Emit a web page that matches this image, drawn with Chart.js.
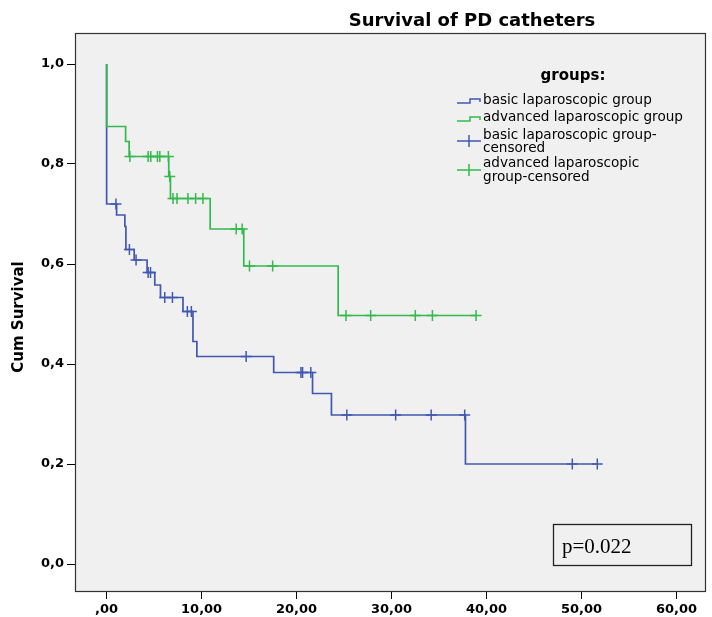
<!DOCTYPE html>
<html>
<head>
<meta charset="utf-8">
<script src="https://cdn.jsdelivr.net/npm/chart.js@4"></script>
<style>
  body { margin: 0; background: #fff; }
  #wrap { position: relative; width: 712px; height: 617px; }
</style>
</head>
<body>
<div id="wrap"><canvas id="km"></canvas></div>
<script>
// Kaplan-Meier steps: time of each drop and survival after it (last point = end of follow-up)
const basicTimes = [0, 0, 1.05, 1.92, 2.03, 2.9, 4.26, 5.07, 5.67, 8.04, 9.09, 9.5, 17.59, 21.68, 23.67, 37.78, 51.66];
const basicSurv  = [1.0, 0.72, 0.698, 0.675, 0.629, 0.608, 0.583, 0.558, 0.533, 0.505, 0.445, 0.415, 0.383, 0.341, 0.298, 0.2, 0.2];
const basicCensored = [0.98, 2.4, 3.1, 4.37, 4.62, 6.12, 6.93, 8.5, 8.92, 14.69, 20.46, 20.63, 21.5, 25.29, 30.43, 34.17, 37.7, 49.03, 51.66];

const advTimes = [0, 0, 2.0, 2.37, 6.54, 6.72, 10.9, 14.44, 24.38, 38.9];
const advSurv  = [1.0, 0.875, 0.845, 0.815, 0.775, 0.731, 0.67, 0.596, 0.497, 0.497];
const advCensored = [2.45, 4.37, 4.65, 5.35, 5.6, 6.5, 6.65, 6.99, 7.41, 8.56, 9.37, 10.14, 13.64, 14.27, 15.04, 17.48, 25.2, 27.8, 32.5, 34.3, 38.9];

const xTicks = [0, 10, 20, 30, 40, 50, 60];
const yTicks = [0, 0.2, 0.4, 0.6, 0.8, 1.0];

const groupNames = ['basic laparoscopic group', 'advanced laparoscopic group',
                    'basic laparoscopic group-\ncensored', 'advanced laparoscopic\ngroup-censored'];
const pValue = 'p=0.022';

const BLUE = '#4058b0';
const GREEN = '#33b94c';

function survAt(times, surv, t) {
    let s = surv[0];
    for (let i = 0; i < times.length; i++)
        if (times[i] <= t) s = surv[i];
    return s;
}

const toXY = (times, surv) => times.map((t, i) => ({ x: t, y: surv[i] }));
const censXY = (cens, times, surv) => cens.map(t => ({ x: t, y: survAt(times, surv, t) }));

// plot background, frame, titles, legend and p-value box
const decor = {
    id: 'decor',
    beforeDatasetsDraw(chart) {
        const { ctx, chartArea: a } = chart;
        ctx.save();
        ctx.fillStyle = '#f0f0f0';
        ctx.fillRect(a.left, a.top, a.right - a.left, a.bottom - a.top);
        ctx.strokeStyle = '#333';
        ctx.lineWidth = 1.2;
        ctx.strokeRect(a.left + 0.5, a.top + 0.5, a.right - a.left, a.bottom - a.top);

        // p-value box
        ctx.fillStyle = '#f0f0f0';
        ctx.fillRect(553, 524, 139, 42);
        ctx.lineWidth = 1.3;
        ctx.strokeStyle = '#222';
        ctx.strokeRect(553.5, 524.5, 138, 41);
        ctx.fillStyle = '#000';
        ctx.font = '21px "Liberation Serif"';
        ctx.textBaseline = 'alphabetic';
        ctx.fillText(pValue, 562, 553);
        ctx.restore();
    },
    afterDraw(chart) {
        const { ctx } = chart;
        ctx.save();
        ctx.fillStyle = '#000';
        ctx.textAlign = 'center';
        ctx.textBaseline = 'alphabetic';
        ctx.font = 'bold 18px "DejaVu Sans"';
        ctx.fillText('Survival of PD catheters', 472, 26);

        // y axis title
        ctx.save();
        ctx.translate(19, 317);
        ctx.rotate(-Math.PI / 2);
        ctx.textBaseline = 'middle';
        ctx.font = 'bold 15px "DejaVu Sans"';
        ctx.fillText('Cum Survival', 0, 0);
        ctx.restore();

        ctx.textBaseline = 'middle';
        ctx.font = 'bold 15px "DejaVu Sans"';
        ctx.fillText('groups:', 573, 76);

        ctx.textAlign = 'left';
        ctx.font = '13.6px "DejaVu Sans"';
        const rows = [[100], [117.5], [135.5, 148.5], [163.5, 177]];
        groupNames.forEach((name, i) => {
            name.split('\n').forEach((line, j) => ctx.fillText(line, 483, rows[i][j]));
        });

        ctx.lineWidth = 1.5;
        // step icons
        [[BLUE, 101], [GREEN, 119]].forEach(([c, y]) => {
            ctx.strokeStyle = c;
            ctx.beginPath();
            ctx.moveTo(457, y + 2);
            ctx.lineTo(470, y + 2);
            ctx.lineTo(470, y - 2);
            ctx.lineTo(480, y - 2);
            ctx.lineTo(480, y + 1);
            ctx.stroke();
        });
        // censor icons
        [[BLUE, 141], [GREEN, 170]].forEach(([c, y]) => {
            ctx.strokeStyle = c;
            ctx.beginPath();
            ctx.moveTo(457, y);
            ctx.lineTo(481, y);
            ctx.moveTo(469, y - 6);
            ctx.lineTo(469, y + 6);
            ctx.stroke();
        });
        ctx.restore();
    }
};

const tickFont = { family: 'DejaVu Sans', size: 13, weight: 'bold' };

new Chart(document.getElementById('km'), {
    type: 'line',
    data: {
        datasets: [
            { label: 'advanced laparoscopic group', data: toXY(advTimes, advSurv), borderColor: GREEN,
              borderWidth: 1.7, stepped: true, pointRadius: 0, fill: false, order: 2 },
            { label: 'basic laparoscopic group', data: toXY(basicTimes, basicSurv), borderColor: BLUE,
              borderWidth: 1.7, stepped: true, pointRadius: 0, fill: false, order: 3 },
            { label: 'advanced laparoscopic group-censored', data: censXY(advCensored, advTimes, advSurv),
              showLine: false, pointStyle: 'cross', pointRadius: 5.5, borderColor: GREEN, borderWidth: 1.5, order: 0 },
            { label: 'basic laparoscopic group-censored', data: censXY(basicCensored, basicTimes, basicSurv),
              showLine: false, pointStyle: 'cross', pointRadius: 5.5, borderColor: BLUE, borderWidth: 1.5, order: 1 }
        ]
    },
    options: {
        responsive: true,
        maintainAspectRatio: false,
        animation: false,
        layout: { padding: { top: 33, left: 0, right: 3, bottom: 0 } },
        plugins: { legend: { display: false }, tooltip: { enabled: false } },
        scales: {
            x: {
                type: 'linear',
                min: -3.33,
                max: 63.0,
                afterBuildTicks: s => { s.ticks = xTicks.map(v => ({ value: v })); },
                afterFit: s => { s.height = 26; s.paddingLeft = 0; s.paddingRight = 0; },
                grid: { drawOnChartArea: false, drawTicks: true, tickLength: 8, color: '#000' },
                border: { display: true, color: '#333' },
                ticks: {
                    color: '#000', font: tickFont, padding: 3, maxRotation: 0,
                    callback: v => v === 0 ? ',00' : v.toFixed(2).replace('.', ',')
                }
            },
            y: {
                type: 'linear',
                min: -0.054,
                max: 1.062,
                afterBuildTicks: s => { s.ticks = yTicks.map(v => ({ value: v })); },
                afterFit: s => { s.width = 75; s.paddingTop = 0; s.paddingBottom = 0; },
                grid: { drawOnChartArea: false, drawTicks: true, tickLength: 8, color: '#000' },
                border: { display: true, color: '#333' },
                ticks: {
                    color: '#000', font: tickFont, padding: 3,
                    callback: v => v.toFixed(1).replace('.', ',')
                }
            }
        }
    },
    plugins: [decor]
});
</script>
</body>
</html>
